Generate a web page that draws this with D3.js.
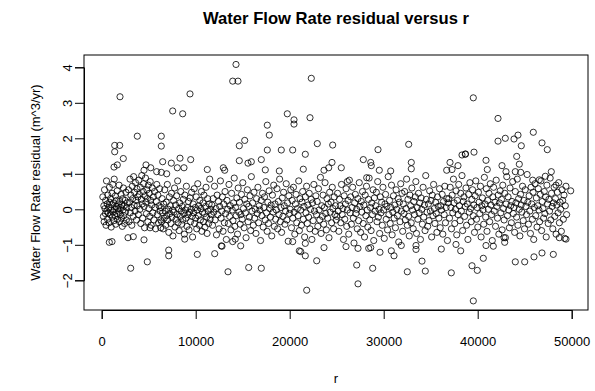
<!DOCTYPE html>
<html><head><meta charset="utf-8">
<script src="https://cdn.jsdelivr.net/npm/d3@7/dist/d3.min.js"></script>
<style>
html,body{margin:0;padding:0;background:#fff;}
svg{display:block;font-family:"Liberation Sans",Arial,Helvetica,sans-serif;}
</style></head>
<body><svg id="c" width="595" height="391"></svg>
<script>
// ---------- data ----------
const title = "Water Flow Rate residual versus r";
const xLabel = "r";
const yLabel = "Water Flow Rate residual (m^3/yr)";
const xTicks = [0, 10000, 20000, 30000, 40000, 50000];
const yTicks = [-2, -1, 0, 1, 2, 3, 4];

// dense cloud, low r (pairs r, residual)
const cloudLowR = [
[120,0.35],[180,-0.20],[230,0.10],[260,-0.35],[300,0.55],[350,0.02],[390,-0.12],[420,0.25],[460,-0.45],[510,0.80],
[540,-0.05],[580,0.15],[620,-0.28],[650,0.40],[700,-0.10],[740,0.05],[780,-0.38],[820,0.62],[850,0.20],[900,-0.15],
[940,0.30],[980,-0.02],[1010,-0.50],[1060,0.12],[1100,0.45],[1130,-0.22],[1170,0.70],[1210,-0.08],[1250,0.18],[1290,-0.32],
[1330,0.85],[1360,0.00],[1400,-0.18],[1450,0.38],[1490,-0.42],[1530,0.08],[1570,0.25],[1610,-0.12],[1650,0.52],[1690,-0.28],
[1730,0.02],[1770,0.15],[1810,-0.05],[1850,0.68],[1890,-0.35],[1930,0.22],[1970,-0.15],[2010,0.05],[2060,0.42],[2100,-0.25],
[2140,0.12],[2190,-0.48],[2230,0.30],[2270,-0.02],[2310,0.60],[2350,-0.18],[2400,0.10],[2440,-0.40],[2490,0.25],[2530,-0.08],
[2580,0.48],[2620,-0.30],[2670,0.05],[2720,0.18],
[2850,0.55],[2900,-0.35],[2960,0.20],[3010,0.85],[3050,-0.10],[3100,0.40],[3150,0.05],[3200,-0.45],[3250,0.65],[3300,0.30],
[3350,-0.20],[3400,0.92],[3450,0.12],[3500,0.48],[3550,-0.05],[3600,0.75],[3650,0.25],[3700,-0.30],[3750,0.58],[3800,0.10],
[3850,0.35],[3900,-0.15],[3950,0.82],[4000,0.42],[4060,0.00],[4110,0.62],[4160,-0.40],[4210,0.28],[4260,0.95],[4310,0.15],
[4360,-0.25],[4410,0.50],[4460,0.72],[4510,0.08],[4560,-0.52],[4610,0.38],[4660,0.88],[4710,0.20],[4760,-0.12],[4810,0.55],
[4860,0.30],[4910,-0.35],[4960,0.68],[5010,0.02],[5060,0.45],[5110,-0.20],[5160,0.78],[5210,0.25],[5260,-0.45],[5320,0.12],
[5380,0.60],[5440,-0.10],[5500,0.35],[5560,-0.30],[5620,0.50],[5680,0.05],[5740,-0.55],[5800,0.22],[5860,0.70],[5920,-0.15],
[5980,0.40],[6040,-0.38],[6100,0.10],[6160,0.58],[6220,-0.05],[6280,-0.30],
[6320,0.05],[6370,-0.35],[6430,0.30],[6480,-0.10],[6540,-0.55],[6590,0.15],[6650,-0.25],[6700,0.55],[6760,-0.05],[6810,-0.45],
[6870,0.20],[6920,-0.18],[6980,0.70],[7030,-0.30],[7090,0.00],[7140,-0.65],[7200,0.35],[7250,-0.12],[7310,0.10],[7360,-0.40],
[7420,0.45],[7470,-0.22],[7530,-0.02],[7580,-0.75],[7640,0.25],[7690,-0.08],[7750,0.60],[7800,-0.50],[7860,0.12],[7910,-0.28],
[7970,0.38],[8020,-0.15],[8080,0.80],[8130,-0.38],[8190,0.02],[8240,-0.60],[8300,0.18],[8350,-0.20],[8410,0.50],[8460,-0.05],
[8520,-0.42],[8570,0.08],[8630,-0.30],[8680,0.28],[8740,-0.12],[8790,-0.70],[8850,0.40],[8900,-0.02],[8960,-0.25],[9010,0.65],
[9070,-0.48],[9120,0.05],[9180,-0.15],[9230,0.22],[9290,-0.58],[9340,-0.08],[9400,0.32],[9450,-0.35],[9510,0.00],[9560,0.48],
[9620,-0.20],[9670,-0.78],[9730,0.15],[9780,-0.10],[9840,0.58],[9890,-0.40],[9950,0.05],[10000,-0.25],[10060,0.35],[10110,-0.55],
[10170,-0.02],[10220,0.72],[10280,-0.18],[10330,0.10],[10390,-0.45],[10440,0.25],[10500,-0.30],[10550,0.02],[10610,0.50],[10660,-0.62],
[10720,-0.08],[10770,0.18],[10830,-0.35],[10880,0.40],[10940,-0.12],[10990,-0.50],[11050,0.08],[11100,0.62],[11160,-0.22],[11210,-0.68],
[11270,0.30],[11320,-0.05],[11380,-0.40],[11430,0.15],[11490,0.85],[11540,-0.28],[11600,0.00],[11650,-0.15]
];

// dense cloud, r 11.7k - 25k
const midR = [
11720,11790,11860,11930,12000,12070,12140,12210,12280,12350,
12420,12490,12560,12630,12700,12770,12840,12910,12980,13050,
13120,13190,13260,13330,13400,13470,13540,13610,13680,13750,
13820,13890,13960,14030,14100,14170,14240,14310,14380,14450,
14520,14590,14660,14730,14800,14870,14940,15010,15080,15150,
15220,15290,15360,15430,15500,15570,15640,15710,15780,15850,
15920,15990,16060,16130,16200,16270,16340,16410,16480,16550,
16620,16690,16760,16830,16900,16970,17040,17110,17180,17250,
17320,17390,17460,17530,17600,17670,17740,17810,17880,17950,
18020,18090,18160,18230,18300,18370,18440,18510,18580,18650,
18720,18790,18860,18930,19000,19070,19140,19210,19280,19350,
19420,19490,19560,19630,19700,19770,19840,19910,19980,20050,
20120,20190,20260,20330,20400,20470,20540,20610,20680,20750,
20820,20890,20960,21030,21100,21170,21240,21310,21380,21450,
21520,21590,21660,21730,21800,21870,21940,22010,22080,22150,
22220,22290,22360,22430,22500,22570,22640,22710,22780,22850,
22920,22990,23060,23130,23200,23270,23340,23410,23480,23550,
23620,23690,23760,23830,23900,23970,24040,24110,24180,24250,
24320,24390,24460,24530,24600,24670,24740,24810,24880,24950];
const midResidual = [
0.12,-0.45,0.30,-0.08,0.65,-0.30,0.02,-0.72,0.40,-0.15,0.22,-0.55,0.08,0.80,-0.25,-0.05,0.35,-0.62,0.15,-0.38,
0.50,-0.12,-0.85,0.25,0.00,-0.40,0.70,-0.20,0.10,-0.58,0.45,-0.02,-0.32,0.18,0.88,-0.48,0.05,-0.18,0.32,-0.70,
0.60,-0.08,0.20,-0.42,-0.15,0.42,-0.28,0.75,0.02,-0.52,0.28,-0.10,-0.80,0.15,0.55,-0.35,0.08,-0.22,0.38,-0.60,
0.92,-0.05,0.18,-0.45,0.48,-0.25,0.00,-0.68,0.30,-0.12,0.62,-0.38,0.10,-0.02,-0.88,0.25,-0.18,0.45,-0.50,0.05,
0.35,-0.30,0.78,-0.10,-0.62,0.20,-0.40,0.52,0.02,-0.22,0.12,-0.75,0.40,-0.08,0.68,-0.48,0.15,-0.28,-0.02,0.58,
-0.55,0.22,-0.15,0.85,-0.35,0.05,-0.65,0.32,-0.20,0.48,0.10,-0.42,-0.05,0.72,-0.30,0.18,-0.90,0.38,-0.12,0.00,
0.55,-0.52,0.25,-0.25,0.62,-0.08,-0.70,0.15,0.42,-0.38,0.02,-0.18,0.80,-0.60,0.30,-0.02,-0.45,0.20,0.50,-0.28,
0.08,-0.78,0.35,-0.10,0.65,-0.40,0.12,-0.22,0.45,-0.55,0.00,0.28,-0.85,0.18,-0.32,0.70,-0.05,-0.62,0.38,-0.15,
0.22,-0.48,0.58,-0.02,-0.30,0.90,-0.68,0.10,-0.20,0.40,-0.42,0.05,0.75,-0.12,-0.58,0.30,-0.25,0.15,-0.80,0.48,
-0.08,0.20,-0.38,0.62,0.02,-0.55,0.35,-0.15,0.10,-0.30];

// dense cloud, r 25k - 37k
const upperR = [
25020,25090,25160,25230,25300,25370,25440,25510,25580,25650,
25720,25790,25860,25930,26000,26070,26140,26210,26280,26350,
26420,26490,26560,26630,26700,26770,26840,26910,26980,27050,
27120,27190,27260,27330,27400,27470,27540,27610,27680,27750,
27820,27890,27960,28030,28100,28170,28240,28310,28380,28450,
28520,28590,28660,28730,28800,28870,28940,29010,29080,29150,
29220,29290,29360,29430,29500,29570,29640,29710,29780,29850,
29920,29990,30060,30130,30200,30270,30340,30410,30480,30550,
30620,30690,30760,30830,30900,30970,31040,31110,31180,31250,
31320,31390,31460,31530,31600,31670,31740,31810,31880,31950,
32020,32090,32160,32230,32300,32370,32440,32510,32580,32650,
32720,32790,32860,32930,33000,33070,33140,33210,33280,33350,
33420,33490,33560,33630,33700,33770,33840,33910,33980,34050,
34120,34190,34260,34330,34400,34470,34540,34610,34680,34750,
34820,34890,34960,35030,35100,35170,35240,35310,35380,35450,
35520,35590,35660,35730,35800,35870,35940,36010,36080,36150,
36220,36290,36360,36430,36500,36570,36640,36710,36780,36850];
const upperResidual = [
-0.20,0.45,-0.05,-0.62,0.28,0.10,-0.38,0.70,-0.15,0.02,-0.85,0.38,-0.28,0.15,0.58,-0.48,-0.02,0.25,-0.70,0.82,
-0.10,0.35,-0.42,0.05,0.62,-0.25,-0.95,0.18,0.42,-0.12,0.00,-0.55,0.30,-0.32,0.75,0.08,-0.65,0.22,-0.08,0.50,
-0.40,0.12,-0.78,0.40,-0.18,0.65,-0.02,-0.50,0.28,0.88,-0.30,0.05,-0.60,0.18,-0.15,0.55,-0.88,0.32,-0.05,0.10,
0.48,-0.35,0.78,-0.22,0.00,-0.68,0.35,-0.10,0.20,-0.45,0.62,-0.02,-0.82,0.15,0.42,-0.28,0.08,-0.58,0.92,-0.15,
0.25,-0.40,0.05,0.68,-0.72,-0.08,0.38,-0.25,0.12,-0.52,0.55,0.00,-0.18,0.30,-0.92,0.20,-0.35,0.72,-0.05,0.45,
-0.62,0.15,-0.12,0.50,-0.30,0.02,0.85,-0.45,0.28,-0.20,-0.75,0.40,0.10,-0.38,0.60,-0.02,-0.55,0.22,-0.15,0.35,
0.78,-0.68,0.05,-0.28,0.45,-0.10,0.18,-0.85,0.32,0.00,-0.42,0.62,-0.22,0.12,-0.60,0.95,0.28,-0.08,-0.48,0.15,
-0.32,0.52,-0.05,0.25,-0.78,0.40,-0.18,0.70,0.02,-0.40,0.20,-0.12,-0.65,0.35,0.08,-0.25,0.58,-0.52,0.10,-0.02,
0.42,-0.70,0.22,-0.15,0.65,-0.38,0.05,0.30,-0.88,0.18];

// dense cloud, r 37k - 49.5k
const highR = [
36930,37000,37070,37140,37210,37280,37350,37420,37490,37560,
37630,37700,37770,37840,37910,37980,38050,38120,38190,38260,
38330,38400,38470,38540,38610,38680,38750,38820,38890,38960,
39030,39100,39170,39240,39310,39380,39450,39520,39590,39660,
39730,39800,39870,39940,40010,40080,40150,40220,40290,40360,
40430,40500,40570,40640,40710,40780,40850,40920,40990,41060,
41130,41200,41270,41340,41410,41480,41550,41620,41690,41760,
41830,41900,41970,42040,42110,42180,42250,42320,42390,42460,
42530,42600,42670,42740,42810,42880,42950,43020,43090,43160,
43230,43300,43370,43440,43510,43580,43650,43720,43790,43860,
43930,44000,44070,44140,44210,44280,44350,44420,44490,44560,
44630,44700,44770,44840,44910,44980,45050,45120,45190,45260,
45330,45400,45470,45540,45610,45680,45750,45820,45890,45960,
46030,46100,46170,46240,46310,46380,46450,46520,46590,46660,
46730,46800,46870,46940,47010,47080,47150,47220,47290,47360,
47430,47500,47570,47640,47710,47780,47850,47920,47990,48060,
48130,48200,48270,48340,48410,48480,48550,48620,48690,48760,
48830,48900,48970,49040,49110,49180,49250,49320,49390,49460];
const highResidual = [
0.30,-0.25,0.62,0.05,-0.55,0.40,-0.10,0.85,0.18,-0.40,0.00,0.52,-0.72,0.25,-0.15,0.70,0.10,-0.32,0.45,-0.05,
0.95,-0.60,0.22,0.35,-0.20,0.08,0.60,-0.45,0.15,-0.85,0.42,-0.08,0.75,0.02,-0.35,0.28,0.55,-0.18,0.12,-0.65,
0.38,0.80,-0.28,0.05,-0.50,0.48,0.20,-0.12,0.65,-0.78,0.10,0.32,-0.02,-0.42,0.90,0.15,-0.22,0.58,-0.62,0.25,
0.00,0.45,-0.35,0.72,0.12,-0.15,-0.88,0.35,0.62,-0.05,0.20,-0.48,0.82,0.08,-0.25,0.40,-0.70,0.18,0.52,-0.10,
0.28,-0.58,0.68,0.02,-0.30,0.45,-0.80,0.15,0.92,-0.18,0.35,-0.02,-0.52,0.60,0.10,-0.38,0.22,0.78,-0.12,0.05,
-0.65,0.50,0.18,-0.22,0.85,-0.45,0.30,0.00,-0.75,0.42,0.12,-0.08,0.65,-0.32,0.25,-0.55,0.55,0.08,-0.15,0.98,
0.20,-0.42,0.38,-0.05,-0.68,0.62,0.15,-0.28,0.48,-0.85,0.05,0.72,-0.18,0.32,-0.50,0.10,0.58,-0.02,-0.35,0.42,
0.80,-0.60,0.22,0.02,-0.25,0.50,-0.12,0.35,-0.78,0.68,0.15,-0.40,0.28,-0.05,0.88,-0.30,0.45,0.08,-0.55,0.18,
0.62,-0.20,0.30,-0.70,0.12,0.48,-0.10,0.75,-0.38,0.20,0.00,-0.62,0.55,0.25,-0.28,0.40,-0.82,0.10,0.65,-0.15];

// scattered points outside the dense band (pairs r, residual)
const outliers = [
[1947,3.17],[9394,3.25],[7553,2.77],[8617,2.69],[3787,2.06],[6340,2.06],[6340,1.78],[1383,1.80],[1915,1.80],[1383,1.62],
[2298,1.43],[1660,1.25],[1309,1.19],[8330,1.44],[9468,1.40],[6489,1.34],[7404,1.30],[8043,1.17],[8755,1.17],[4713,1.25],
[5213,1.17],[5851,1.06],[6340,1.04],[6915,1.00],[4500,1.10],[11234,1.12],[1096,-0.91],[809,-0.93],[3085,-1.66],[4851,-1.48],
[7128,-1.15],[7128,-1.31],[10170,-1.27],[4500,-0.86],[8830,-0.84],[2798,-0.80],[3362,-0.77],[5138,-0.52],[6277,-0.52],
[14287,4.08],[13936,3.61],[14500,3.61],[22298,3.69],[19745,2.69],[20457,2.52],[20457,2.40],[22160,2.58],[17617,2.37],[17830,2.09],
[15213,1.94],[14638,1.79],[17617,1.67],[19106,1.67],[20319,1.67],[22936,1.85],[24574,1.81],[21660,1.55],[14638,1.37],[15564,1.30],
[15915,1.34],[16979,1.40],[18894,1.08],[17404,1.11],[21447,1.13],[23649,1.10],[24149,1.17],[24500,1.32],[12936,1.17],[13085,1.10],
[12021,-1.25],[12798,-1.04],[13436,-1.76],[15638,-1.64],[16979,-1.66],[21809,-2.28],[22872,-1.45],[23649,-1.08],[21021,-1.17],[21170,-1.19],
[21660,-1.31],[21660,-0.96],[20319,-0.91],[13936,-0.91],[14213,-0.84],[14787,-1.03],[12723,-1.03],
[32660,1.83],[29394,1.68],[32936,1.32],[32936,1.14],[25489,1.17],[27830,1.40],[28617,1.32],[28681,1.23],[29532,1.10],[30745,1.08],
[37053,1.32],[36702,1.10],[37266,1.12],[37904,1.23],[38330,1.53],[28191,0.89],[26128,0.78],[27266,-2.10],[27128,-1.57],[28830,-1.66],
[32511,-1.76],[34426,-1.74],[37191,-1.79],[34074,-1.46],[25989,-1.05],[27266,-1.10],[28404,-1.10],[28617,-1.08],[29606,-1.21],[30809,-1.17],
[31096,-1.31],[31872,-1.02],[33436,-1.02],[36128,-1.12],[37691,-0.99],[38191,-1.17],[33436,-1.13],
[39532,3.14],[42160,2.56],[45915,2.17],[44287,2.09],[43862,1.98],[42936,2.00],[42160,1.92],[46840,1.87],[47404,1.68],[44638,1.79],
[38681,1.55],[38700,1.56],[39606,1.61],[40883,1.38],[41021,1.12],[44149,1.49],[44426,1.27],[44000,1.06],[44574,1.04],[43011,1.06],
[42585,1.23],[47830,1.06],[47191,0.93],[46553,0.83],[45851,0.82],[49894,0.52],[48330,0.68],[39532,-2.58],[44000,-1.48],[45000,-1.48],
[45989,-1.34],[46840,-1.23],[48043,-1.27],[39394,-1.59],[39957,-1.72],[40596,-1.38],[40883,-1.02],[41660,-1.04],[42872,-0.93],[42798,-0.80],
[49394,-0.84],[48681,-0.80]
];

// ---------- assemble ----------
const points = [];
cloudLowR.forEach(d => points.push({r: d[0], v: d[1]}));
midR.forEach((r, i) => { if (i < midResidual.length) points.push({r, v: midResidual[i]}); });
upperR.forEach((r, i) => { if (i < upperResidual.length) points.push({r, v: upperResidual[i]}); });
highR.forEach((r, i) => { if (i < highResidual.length) points.push({r, v: highResidual[i]}); });
outliers.forEach(d => points.push({r: d[0], v: d[1]}));

// ---------- layout ----------
const svg = d3.select("#c");
const box = {left: 84, right: 588, top: 55, bottom: 310};
const x = d3.scaleLinear().domain([0, 50000]).range([101.7, 571.7]);
const y = d3.scaleLinear().domain([-2, 4]).range([280.3, 67.3]);
const fs = 13;

svg.append("rect").attr("width", 595).attr("height", 391).attr("fill", "#fff");

// points
svg.append("g").selectAll("circle").data(points).join("circle")
  .attr("cx", d => x(d.r)).attr("cy", d => y(d.v)).attr("r", 3.1)
  .attr("fill", "none").attr("stroke", "#000").attr("stroke-width", 0.8);

// box
svg.append("rect").attr("x", box.left).attr("y", box.top)
  .attr("width", box.right - box.left).attr("height", box.bottom - box.top)
  .attr("fill", "none").attr("stroke", "#000").attr("stroke-width", 1);

// x axis
const gx = svg.append("g").attr("transform", `translate(0,${box.bottom})`)
  .call(d3.axisBottom(x).tickValues(xTicks).tickSize(9).tickFormat(d3.format("d")));
gx.select(".domain").attr("stroke", "#000");
gx.selectAll(".tick line").attr("stroke", "#000");
gx.selectAll(".tick text").attr("y", 36).attr("dy", 0)
  .attr("font-size", fs).attr("fill", "#000").attr("font-family", "Liberation Sans, Arial, sans-serif");

// y axis
const gy = svg.append("g").attr("transform", `translate(${box.left},0)`)
  .call(d3.axisLeft(y).tickValues(yTicks).tickSize(9).tickFormat(d3.format("d")));
gy.select(".domain").attr("stroke", "#000");
gy.selectAll(".tick line").attr("stroke", "#000");
gy.selectAll(".tick text").attr("x", 0).attr("dy", 0)
  .attr("transform", "translate(-12,0) rotate(-90)")
  .attr("text-anchor", "middle")
  .attr("font-size", fs).attr("fill", "#000").attr("font-family", "Liberation Sans, Arial, sans-serif")
  .text(d => d < 0 ? "\u2212" + Math.abs(d) : String(d));

// title and labels
svg.append("text").attr("x", (box.left + box.right) / 2).attr("y", 24)
  .attr("text-anchor", "middle").attr("font-weight", "bold").attr("font-size", 16.6)
  .text(title);
svg.append("text").attr("x", (box.left + box.right) / 2).attr("y", 383)
  .attr("text-anchor", "middle").attr("font-size", fs).text(xLabel);
svg.append("text").attr("transform", `translate(40,${(box.top + box.bottom) / 2}) rotate(-90)`)
  .attr("text-anchor", "middle").attr("font-size", fs).text(yLabel);
</script></body></html>
